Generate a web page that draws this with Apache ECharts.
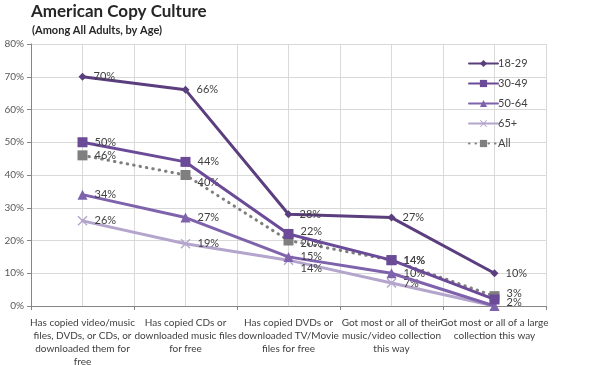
<!DOCTYPE html>
<html><head><meta charset="utf-8">
<script src="https://cdn.jsdelivr.net/npm/echarts@6/dist/echarts.min.js"></script>
<style>html,body{margin:0;padding:0;background:#fff}#c{width:600px;height:365px}</style>
</head><body><div id="c"></div>
<script>
const categories = [
  "Has copied video/music\nfiles, DVDs, or CDs, or\ndownloaded them for\nfree",
  "Has copied CDs or\ndownloaded music files\nfor free",
  "Has copied DVDs or\ndownloaded TV/Movie\nfiles for free",
  "Got most or all of their\nmusic/video collection\nthis way",
  "Got most or all of a large\ncollection this way"
];
const seriesNames = ["18-29", "30-49", "50-64", "65+", "All"];
const age18_29 = [70, 66, 28, 27, 10];
const age30_49 = [50, 44, 22, 14, 2];
const age50_64 = [34, 27, 15, 10, 0];
const age65plus = [26, 19, 14, 7, 0];
const allAdults = [46, 40, 20, 14, 3];
const yTicks = [0, 10, 20, 30, 40, 50, 60, 70, 80];

const FONT = 'Lato, "Open Sans", sans-serif';
const colors = ['#5B3E7D', '#6B4B98', '#7F62AC', '#B4A5CC', '#7F7F7F'];
const xPath = 'path://M0,1L1,0L5,4L9,0L10,1L6,5L10,9L9,10L5,6L1,10L0,9L4,5Z';
const symbols = ['diamond', 'rect', 'triangle', xPath, 'rect'];
const symSizes = [8, 10, 10, 10, 10];
// label vertical nudges (px) per series per point
const labelDy = [
  [0, 0, 0, 0, 0],
  [0, 0, -2, 0, 3],
  [0, 0, 0, 0, 0],
  [0, 0, 8, 0, 0],
  [0, 7, 3, 0, -3]
];
const values = [age18_29, age30_49, age50_64, age65plus, allAdults];

const series = values.map((vals, i) => ({
  name: seriesNames[i],
  type: 'line',
  data: vals.map((v, j) => ({
    value: v,
    label: { offset: [0, labelDy[i][j]] }
  })),
  symbol: symbols[i],
  symbolSize: symSizes[i],
  lineStyle: { width: 3, color: colors[i], type: i === 4 ? [0.5, 6] : 'solid', cap: 'round' },
  itemStyle: { color: colors[i] },
  z: 10 - i,
  label: {
    show: true, position: 'right', distance: 7,
    fontFamily: FONT, fontSize: 11, color: '#404040',
    formatter: p => (p.value === 0 ? '' : p.value + '%')
  }
}));

const chart = echarts.init(document.getElementById('c'), null, { renderer: 'canvas' });
chart.setOption({
  animation: false,
  backgroundColor: '#ffffff',
  title: [
    { text: 'American Copy Culture', left: 31, top: 3, padding: 0,
      textStyle: { fontFamily: FONT, fontSize: 17, fontWeight: 'bold', color: '#262626' } },
    { text: '(Among All Adults, by Age)', left: 32, top: 25, padding: 0,
      textStyle: { fontFamily: FONT, fontSize: 11, fontWeight: 'bold', color: '#262626' } }
  ],
  legend: {
    orient: 'vertical', left: 463, top: 53,
    itemWidth: 29, itemHeight: 9, itemGap: 9,
    data: seriesNames,
    textStyle: { fontFamily: FONT, fontSize: 11, color: '#404040', padding: [0, 0, 0, -5] }
  },
  grid: { left: 31, right: 54, top: 44, bottom: 59, containLabel: false, outerBoundsMode: 'none' },
  xAxis: [
    {
      type: 'category', data: categories, boundaryGap: true,
      axisLine: { lineStyle: { color: '#868686' } },
      axisTick: { show: true, length: 4, lineStyle: { color: '#868686' } },
      axisLabel: { interval: 0, fontFamily: FONT, fontSize: 10, color: '#404040', lineHeight: 13, margin: 10, hideOverlap: false },
      splitLine: { show: false }
    },
    {
      type: 'value', min: 0, max: 10, interval: 1, position: 'top',
      axisLine: { show: false }, axisTick: { show: false }, axisLabel: { show: false },
      splitLine: { show: true, lineStyle: { color: '#D9D9D9', width: 1 } }
    }
  ],
  yAxis: {
    type: 'value', min: yTicks[0], max: yTicks[yTicks.length - 1], interval: 10,
    axisLine: { show: true, lineStyle: { color: '#868686' } },
    axisTick: { show: true, length: 4, lineStyle: { color: '#868686' } },
    axisLabel: { formatter: '{value}%', fontFamily: FONT, fontSize: 10, color: '#595959', margin: 7 },
    splitLine: { lineStyle: { color: '#D9D9D9', width: 1 } }
  },
  series: series
});
</script></body></html>
